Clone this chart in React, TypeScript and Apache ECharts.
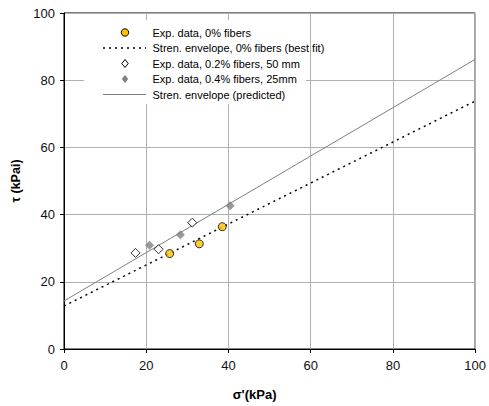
import React, { useEffect, useRef } from "react";
import * as echarts from "echarts";

const exp0: number[][] = [
  [25.7, 28.4],
  [32.9, 31.3],
  [38.5, 36.4],
];
const exp02: number[][] = [
  [17.4, 28.6],
  [23.0, 29.7],
  [31.2, 37.6],
];
const exp04: number[][] = [
  [20.8, 30.9],
  [28.3, 34.0],
  [40.4, 42.6],
];
const bestFit: number[][] = [
  [0, 12.8],
  [100, 73.8],
];
const predicted: number[][] = [
  [0, 14.3],
  [100, 86.2],
];
const names = [
  "Exp. data, 0% fibers",
  "Stren. envelope, 0% fibers (best fit)",
  "Exp. data, 0.2% fibers, 50 mm",
  "Exp. data, 0.4% fibers, 25mm",
  "Stren. envelope (predicted)",
];

const FONT = "'Liberation Sans', Arial, sans-serif";

function buildLegend() {
  const x0 = 103;
  const x1 = 146;
  const cx = 125;
  const rows = [32.5, 48, 63.5, 79, 94.5];
  const diamond = (cy: number, r: number) => [
    [cx, cy - r],
    [cx + r * 0.8, cy],
    [cx, cy + r],
    [cx - r * 0.8, cy],
  ];
  const els: any[] = [
    { type: "rect", shape: { x: 84, y: 20, width: 222, height: 84 }, style: { fill: "#fff" }, z: 10 },
    {
      type: "circle",
      shape: { cx, cy: rows[0], r: 3.7 },
      style: { fill: "#FFC000", stroke: "#000", lineWidth: 1 },
      z: 11,
    },
    {
      type: "line",
      shape: { x1: x0, y1: rows[1], x2: x1, y2: rows[1] },
      style: { stroke: "#000", lineWidth: 1.5, lineDash: [2, 4] },
      z: 11,
    },
    {
      type: "polygon",
      shape: { points: diamond(rows[2], 4) },
      style: { fill: "#fff", stroke: "#000", lineWidth: 1 },
      z: 11,
    },
    {
      type: "polygon",
      shape: { points: diamond(rows[3], 4) },
      style: { fill: "#808080" },
      z: 11,
    },
    {
      type: "line",
      shape: { x1: x0, y1: rows[4], x2: x1, y2: rows[4] },
      style: { stroke: "#808080", lineWidth: 1 },
      z: 11,
    },
  ];
  names.forEach((n, i) => {
    els.push({
      type: "text",
      x: 152.5,
      y: rows[i],
      style: {
        text: n,
        fill: "#000",
        font: `11px ${FONT}`,
        textVerticalAlign: "middle",
        verticalAlign: "middle",
      },
      z: 11,
    });
  });
  return els;
}

export default function App() {
  const ref = useRef<HTMLDivElement>(null);
  useEffect(() => {
    const chart = echarts.init(ref.current!, undefined, { renderer: "svg" });
    const axisCommon = {
      min: 0,
      max: 100,
      interval: 20,
      axisLine: { show: true, lineStyle: { color: "#000", width: 1 } },
      axisTick: { show: true, inside: false, length: 4, lineStyle: { color: "#000" } },
      splitLine: { show: true, lineStyle: { color: "#b0b0b0", width: 1 } },
      nameLocation: "middle",
    };
    chart.setOption({
      animation: false,
      backgroundColor: "#fff",
      grid: {
        left: 64,
        right: 12,
        top: 13,
        bottom: 55,
        show: true,
        borderColor: "#000",
        borderWidth: 1,
        backgroundColor: "transparent",
      },
      graphic: buildLegend(),
      xAxis: {
        ...axisCommon,
        type: "value",
        name: "σ'(kPa)",
        nameGap: 39,
        nameTextStyle: {
          color: "#000",
          fontSize: 13,
          fontWeight: "bold",
          fontFamily: FONT,
          padding: [0, 30, 0, 0],
        },
        axisLabel: { color: "#111", fontSize: 13, fontFamily: FONT, margin: 10 },
      },
      yAxis: {
        ...axisCommon,
        type: "value",
        name: "τ (kPai)",
        nameGap: 38,
        nameRotate: 90,
        nameTextStyle: { color: "#000", fontSize: 12.5, fontWeight: "bold", fontFamily: FONT },
        axisLabel: { color: "#111", fontSize: 13, fontFamily: FONT, margin: 9 },
      },
      series: [
        {
          name: names[0],
          type: "scatter",
          data: exp0,
          symbol: "circle",
          symbolSize: 8,
          itemStyle: { color: "#FFC000", borderColor: "#000", borderWidth: 1 },
          z: 5,
        },
        {
          name: names[1],
          type: "line",
          data: bestFit,
          symbol: "none",
          lineStyle: { color: "#000", width: 1.5, type: [2, 4] },
          itemStyle: { color: "#000" },
        },
        {
          name: names[2],
          type: "scatter",
          data: exp02,
          symbol: "diamond",
          symbolSize: 9,
          itemStyle: { color: "#fff", borderColor: "#000", borderWidth: 1 },
          z: 5,
        },
        {
          name: names[3],
          type: "scatter",
          data: exp04,
          symbol: "diamond",
          symbolSize: 9,
          itemStyle: { color: "#808080" },
          z: 5,
        },
        {
          name: names[4],
          type: "line",
          data: predicted,
          symbol: "none",
          lineStyle: { color: "#808080", width: 1 },
          itemStyle: { color: "#808080" },
        },
      ],
    });
    return () => chart.dispose();
  }, []);
  return <div ref={ref} style={{ width: 489, height: 406, position: "absolute", left: 0, top: 0 }} />;
}
